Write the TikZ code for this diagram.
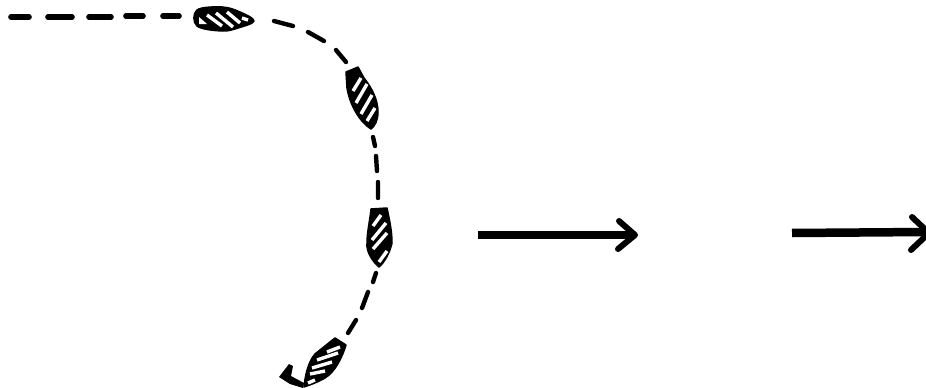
\documentclass[tikz,border=0pt]{standalone}
\usepackage{tikz}

\begin{document}
\begin{tikzpicture}[
    x=1pt, y=-1pt,
    % Track and hull styles
    track/.style={line width=4.4pt, line cap=round, draw=black},
    widetrack/.style={track, line width=5.6pt},
    hull/.style={fill=black, draw=black, line width=1.5pt, line join=round},
    stripe/.style={draw=white, line width=3.4pt},
    % Arrow styles
    shaft/.style={line width=8.5pt, draw=black},
    head/.style={line width=6pt, draw=black, line cap=round, line join=round}
]

\useasboundingbox (0, 0) rectangle (926, 388);

% ==========================================
% DASHED TRACK
% ==========================================

% --- Straight run ---
\draw[widetrack] (11, 17) -- (29, 17) (48, 17) -- (72, 17) (89, 17) -- (111, 17)
    (126, 16) -- (143, 16) (163, 16) -- (179, 16);

% --- Turn ---
\draw[track] (274, 21) -- (293, 26) (308, 32) -- (324, 41) (336, 50) -- (346, 62);
\draw[track] (373, 137) -- (375, 146) (376, 156) -- (377, 171) (378, 182) -- (378, 198);
\draw[track] (376, 273) -- (373, 282) (368, 292) -- (362, 308) (356, 320) -- (348, 333);

% ==========================================
% BOATS
% ==========================================

% --- Boat 1 ---
\fill[hull] plot[smooth cycle, tension=0.6] coordinates {(197, 10) (222, 7) (240, 12) (254, 21) (238, 28) (222, 31) (197, 26)};
\draw[stripe] (207, 15) -- (222, 26) (216, 13) -- (233, 27) (227, 12) -- (240, 23) (242, 18) -- (248, 20);
\fill[white] (199, 17) -- (199, 24) -- (207, 24) -- cycle;

% --- Boat 2 ---
\fill[hull] (346, 72) -- (351, 70) -- (358, 67) -- (364, 78)
    .. controls (372, 88) and (378, 100) .. (378, 112)
    .. controls (378, 120) and (375, 126) .. (371, 129)
    .. controls (360, 122) and (350, 106) .. (347, 88) -- cycle;
\draw[stripe] (353, 91) -- (361, 78) (356, 103) -- (367, 84) (361, 114) -- (372, 95) (367, 121) -- (375, 108);

% --- Boat 3 ---
\fill[hull] (371, 209) -- (387, 208)
    .. controls (390, 222) and (392, 232) .. (392, 243)
    .. controls (390, 252) and (385, 262) .. (379, 267)
    .. controls (373, 262) and (366, 252) .. (367, 243)
    .. controls (367, 232) and (370, 220) .. (371, 209) -- cycle;
\draw[stripe] (373, 226) -- (381, 215) (372, 240) -- (386, 223) (373, 249) -- (387, 233) (379, 262) -- (387, 251);

% --- Boat 4 ---
\fill[hull] (335, 338) -- (346, 345)
    .. controls (342, 358) and (335, 372) .. (325, 378)
    .. controls (318, 382) and (310, 385) .. (304, 387)
    .. controls (305, 376) and (308, 362) .. (315, 354) -- cycle;
\draw[stripe] (327, 352) -- (340, 347) (317, 360) -- (338, 353) (312, 368) -- (332, 362)
    (310, 374) -- (325, 371) (308, 383) -- (315, 380);

% --- Rudder ---
\fill (279, 377) -- (289, 364) -- (293, 366) -- (291, 376) -- (304, 383) -- (303, 388) -- (290, 384) -- cycle;

% ==========================================
% ARROWS
% ==========================================
\draw[shaft] (478, 235) -- (634, 235);
\draw[head] (619, 221) -- (635, 235) -- (618, 249);

\draw[shaft] (792, 233) -- (926, 232);
\draw[head] (912, 217) -- (929, 233) -- (911, 250);

\end{tikzpicture}
\end{document}
